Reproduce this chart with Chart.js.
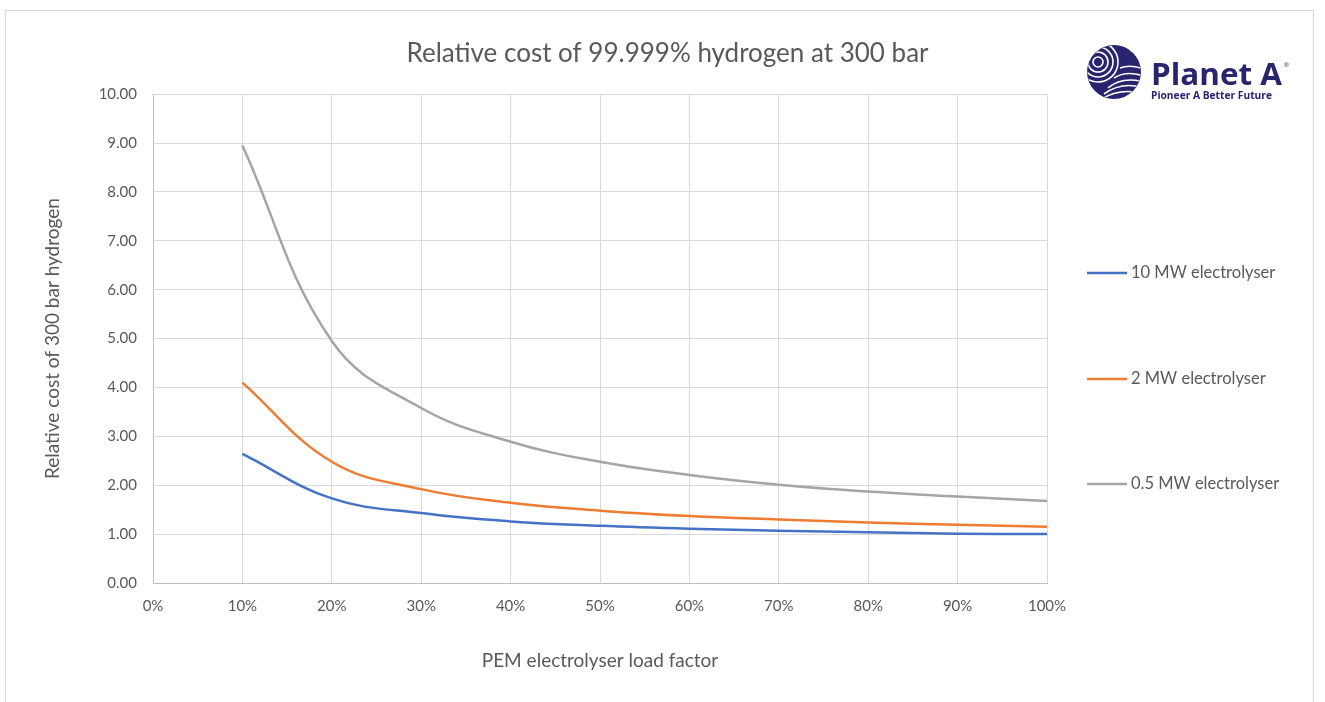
<!DOCTYPE html>
<html>
<head>
<meta charset="utf-8">
<script src="https://cdn.jsdelivr.net/npm/chart.js@4"></script>
<style>
  body { margin: 0; background: #fff; }
  #wrap { position: relative; width: 1325px; height: 702px; overflow: hidden; }
  #frame { position: absolute; left: 5px; top: 10px; width: 1307px; height: 720px; border: 1px solid #d9d9d9; pointer-events: none; }
  #logo { position: absolute; left: 1084px; top: 42px; }
</style>
</head>
<body>
<div id="wrap">
  <canvas id="chart" width="1325" height="702"></canvas>
  <div id="frame"></div>
  <svg id="logo" width="220" height="66" viewBox="0 0 220 66">
    <defs>
      <clipPath id="disc"><circle cx="30" cy="30" r="26.5"/></clipPath>
    </defs>
    <circle cx="30" cy="30" r="27" fill="#28246e"/>
    <g clip-path="url(#disc)" fill="none" stroke="#fff" stroke-width="1.6">
      <circle cx="14" cy="20" r="5"/>
      <circle cx="14" cy="20" r="10"/>
      <circle cx="14" cy="20" r="15"/>
      <circle cx="14" cy="20" r="20"/>
      <path d="M 24 46 Q 38 34 60 40"/>
      <path d="M 20 52 Q 38 39 60 46"/>
      <path d="M 16 58 Q 36 45 60 52"/>
      <path d="M 30 36 Q 42 28 60 34"/>
      <path d="M 36 26 Q 46 22 60 27"/>
    </g>
    <text x="67" y="43" font-family="Open Sans, sans-serif" font-weight="700" font-size="31" fill="#28246e" textLength="131" lengthAdjust="spacingAndGlyphs">Planet A</text>
    <text x="200" y="25" font-family="Open Sans, sans-serif" font-size="6" fill="#28246e">®</text>
    <text x="67" y="57" font-family="Open Sans, sans-serif" font-weight="700" font-size="10.5" fill="#28246e" textLength="121" lengthAdjust="spacingAndGlyphs">Pioneer A Better Future</text>
  </svg>
</div>
<script>
// load factor (%) and relative cost for each electrolyser size
const loadFactor = [10, 20, 30, 40, 50, 60, 70, 80, 90, 100];
const mw10 = [2.64, 1.73, 1.43, 1.26, 1.17, 1.11, 1.07, 1.04, 1.01, 1.00];
const mw2 = [4.10, 2.48, 1.92, 1.64, 1.48, 1.37, 1.30, 1.24, 1.19, 1.15];
const mw05 = [8.95, 4.95, 3.58, 2.89, 2.48, 2.21, 2.01, 1.87, 1.77, 1.68];
const seriesLabels = ['10 MW electrolyser', '2 MW electrolyser', '0.5 MW electrolyser'];

const textColor = '#595959';
const gridColor = '#d9d9d9';
const font = 'Lato';

function pts(vals) {
  return loadFactor.map((x, i) => ({ x: x, y: vals[i] }));
}

// legend drawn at the right side, spaced like the original
const sideLegend = {
  id: 'sideLegend',
  afterDraw(chart, args, opts) {
    const ctx = chart.ctx;
    chart.data.datasets.forEach((ds, i) => {
      const y = opts.rows[i];
      ctx.save();
      ctx.strokeStyle = ds.borderColor;
      ctx.lineWidth = 2.5;
      ctx.beginPath();
      ctx.moveTo(opts.x, y);
      ctx.lineTo(opts.x + opts.lineLength, y);
      ctx.stroke();
      ctx.fillStyle = textColor;
      ctx.font = opts.fontSize + 'px ' + font;
      ctx.textBaseline = 'middle';
      ctx.fillText(ds.label, opts.x + opts.lineLength + 4, y);
      ctx.restore();
    });
  }
};

const ctx = document.getElementById('chart').getContext('2d');
new Chart(ctx, {
  type: 'line',
  data: {
    datasets: [
      { label: seriesLabels[0], data: pts(mw10), borderColor: '#4472c4', backgroundColor: '#4472c4' },
      { label: seriesLabels[1], data: pts(mw2), borderColor: '#ed7d31', backgroundColor: '#ed7d31' },
      { label: seriesLabels[2], data: pts(mw05), borderColor: '#a5a5a5', backgroundColor: '#a5a5a5' }
    ]
  },
  options: {
    responsive: false,
    devicePixelRatio: 1,
    animation: false,
    layout: { padding: { left: 10, right: 0, top: 0, bottom: 0 } },
    elements: {
      line: { borderWidth: 2.5, tension: 0.4, fill: false },
      point: { radius: 0 }
    },
    plugins: {
      legend: { display: false },
      tooltip: { enabled: false },
      title: {
        display: true,
        text: 'Relative cost of 99.999% hydrogen at 300 bar',
        color: textColor,
        font: { family: font, size: 26, weight: 'normal' },
        padding: { top: 38, bottom: 25 }
      },
      sideLegend: { x: 1087, rows: [273, 379, 484], lineLength: 40, fontSize: 16.5 }
    },
    scales: {
      x: {
        type: 'linear',
        min: 0,
        max: 100,
        ticks: {
          stepSize: 10,
          callback: v => v + '%',
          color: textColor,
          font: { family: font, size: 15 },
          padding: 14
        },
        grid: { color: gridColor, drawTicks: false },
        border: { color: '#bfbfbf' },
        title: {
          display: true,
          text: 'PEM electrolyser load factor',
          color: textColor,
          font: { family: font, size: 19 },
          padding: { bottom: 30 }
        },
        afterFit: s => { s.height = 119; }
      },
      y: {
        min: 0,
        max: 10,
        ticks: {
          stepSize: 1,
          callback: v => v.toFixed(2),
          color: textColor,
          font: { family: font, size: 15 },
          padding: 16
        },
        grid: { color: gridColor, drawTicks: false },
        border: { color: '#bfbfbf' },
        title: {
          display: true,
          text: 'Relative cost of 300 bar hydrogen',
          color: textColor,
          font: { family: font, size: 19 },
          padding: { top: 31 }
        },
        afterFit: s => { s.width = 143; }
      },
      // empty right-hand axis keeps room for the legend and logo
      side: {
        position: 'right',
        display: true,
        ticks: { display: false },
        grid: { display: false },
        border: { display: false },
        afterFit: s => { s.width = 278; }
      }
    }
  },
  plugins: [sideLegend]
});
</script>
</body>
</html>
